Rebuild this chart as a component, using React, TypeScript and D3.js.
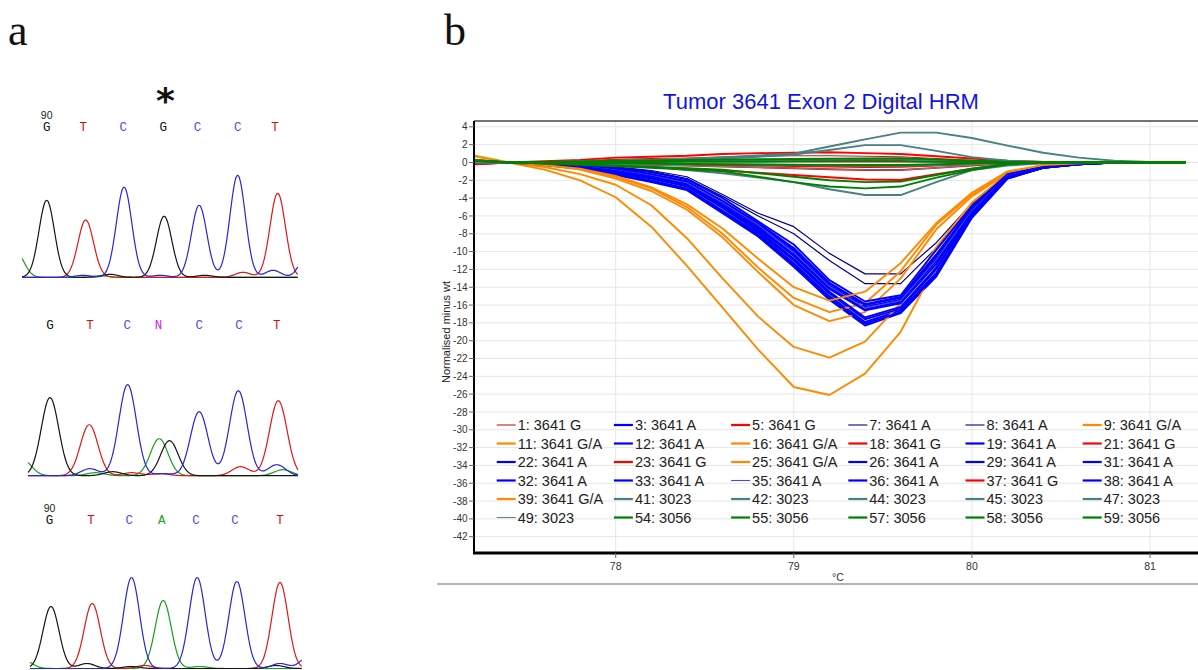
import React from 'react';
import * as d3 from 'd3';

// ---------- Panel b data: HRM difference curves ----------
const temps = [77.2, 77.4, 77.6, 77.8, 78.0, 78.2, 78.4, 78.6, 78.8, 79.0, 79.2, 79.4, 79.6, 79.8, 80.0, 80.2, 80.4, 80.6, 80.8, 81.0, 81.2];

// 3641 G (wild type)
const s1 = [-0.15, 0, 0.1, 0.2, 0.35, 0.45, 0.5, 0.6, 0.7, 0.75, 0.75, 0.7, 0.65, 0.45, 0.25, 0.1, 0.03, 0, 0, 0, 0];
const s5 = [-0.2, 0, 0.15, 0.3, 0.55, 0.65, 0.75, 0.95, 1.05, 1.1, 1.15, 1.05, 0.95, 0.7, 0.45, 0.2, 0.05, 0, 0, 0, 0];
const s18 = [-0.1, 0, 0.05, 0.1, 0.15, 0.2, 0.22, 0.25, 0.25, 0.25, 0.22, 0.2, 0.18, 0.12, 0.08, 0.03, 0, 0, 0, 0, 0];
const s21 = [-0.1, 0, -0.05, -0.1, -0.15, -0.2, -0.25, -0.3, -0.35, -0.4, -0.45, -0.5, -0.47, -0.35, -0.2, -0.05, 0, 0, 0, 0, 0];
const s23 = [-0.15, 0, -0.05, -0.1, -0.2, -0.3, -0.35, -0.45, -0.55, -0.65, -0.75, -0.85, -0.84, -0.6, -0.35, -0.1, -0.02, 0, 0, 0, 0];
const s37 = [-0.2, 0, -0.1, -0.2, -0.4, -0.55, -0.7, -0.9, -1.15, -1.4, -1.65, -1.9, -1.97, -1.3, -0.7, -0.2, -0.05, 0, 0, 0, 0];

// 3641 A
const s3 = [0.1, 0, -0.3, -0.7, -1.4, -2.2, -3.1, -5.7, -8.3, -11.7, -15.4, -18.3, -16.9, -12.8, -6.2, -1.8, -0.6, -0.2, 0, 0, 0];
const s7 = [0, 0, -0.1, -0.3, -0.5, -0.9, -1.6, -3.6, -5.7, -7.2, -10.2, -12.5, -12.5, -9.0, -4.6, -1.2, -0.4, -0.1, 0, 0, 0];
const s8 = [0, 0, -0.1, -0.3, -0.55, -1.0, -1.8, -3.8, -6.0, -8.0, -11.0, -13.6, -13.6, -9.6, -4.8, -1.3, -0.4, -0.1, 0, 0, 0];
const s12 = [0.1, 0, -0.25, -0.6, -1.2, -2.0, -2.9, -5.4, -8.0, -11.3, -15.0, -17.9, -16.6, -12.4, -6.0, -1.7, -0.6, -0.2, 0, 0, 0];
const s19 = [0, 0, -0.15, -0.4, -0.8, -1.4, -2.3, -4.6, -7.1, -10.0, -13.8, -16.2, -15.4, -10.8, -5.3, -1.5, -0.5, -0.1, 0, 0, 0];
const s22 = [0.1, 0, -0.2, -0.55, -1.1, -1.8, -2.7, -5.1, -7.8, -11.0, -14.7, -17.6, -16.4, -12.0, -5.8, -1.7, -0.6, -0.2, 0, 0, 0];
const s26 = [0, 0, -0.1, -0.35, -0.7, -1.3, -2.1, -4.3, -6.8, -9.6, -13.5, -15.9, -15.1, -10.3, -5.1, -1.4, -0.5, -0.1, 0, 0, 0];
const s29 = [0, 0, -0.15, -0.45, -0.9, -1.5, -2.4, -4.8, -7.3, -10.3, -14.0, -16.5, -15.6, -11.1, -5.5, -1.5, -0.5, -0.2, 0, 0, 0];
const s31 = [0.1, 0, -0.25, -0.65, -1.3, -2.1, -3.0, -5.5, -8.2, -11.5, -15.2, -18.1, -16.8, -12.6, -6.1, -1.8, -0.6, -0.2, 0, 0, 0];
const s32 = [0, 0, -0.1, -0.3, -0.6, -1.1, -1.9, -4.0, -6.6, -9.2, -13.2, -15.6, -14.9, -9.8, -4.9, -1.3, -0.5, -0.1, 0, 0, 0];
const s33 = [0, 0, -0.12, -0.38, -0.75, -1.35, -2.2, -4.4, -6.9, -9.8, -13.6, -16.0, -15.2, -10.5, -5.2, -1.4, -0.5, -0.1, 0, 0, 0];
const s35 = [0, 0, -0.15, -0.42, -0.85, -1.45, -2.3, -4.5, -7.0, -10.1, -13.9, -16.3, -15.5, -10.9, -5.4, -1.5, -0.5, -0.1, 0, 0, 0];
const s36 = [0.1, 0, -0.2, -0.5, -1.0, -1.7, -2.6, -5.0, -7.6, -10.8, -14.5, -17.4, -16.2, -11.8, -5.7, -1.6, -0.6, -0.2, 0, 0, 0];
const s38 = [0, 0, -0.18, -0.48, -0.95, -1.6, -2.5, -4.9, -7.4, -10.5, -14.2, -16.6, -15.8, -11.4, -5.6, -1.6, -0.5, -0.2, 0, 0, 0];

// 3641 G/A (heterozygous)
const s9 = [0.8, 0, -0.8, -2.0, -3.9, -7.2, -11.6, -16.3, -21.0, -25.2, -26.1, -23.7, -19.0, -11.5, -5.0, -1.5, -0.4, -0.1, 0, 0, 0];
const s11 = [0.3, 0, -0.3, -0.8, -1.8, -3.2, -5.3, -8.4, -12.3, -16.0, -17.8, -16.8, -13.0, -7.5, -3.8, -1.2, -0.3, -0.1, 0, 0, 0];
const s16 = [0.7, 0, -0.5, -1.3, -2.5, -4.8, -8.5, -13.0, -17.3, -20.7, -21.9, -20.1, -15.8, -9.5, -4.5, -1.3, -0.3, -0.1, 0, 0, 0];
const s25 = [0.2, 0, -0.3, -0.7, -1.6, -2.9, -5.0, -8.0, -11.8, -15.2, -16.8, -15.8, -12.2, -7.0, -3.6, -1.1, -0.3, -0.1, 0, 0, 0];
const s39 = [0.2, 0, -0.3, -0.7, -1.5, -2.8, -4.7, -7.4, -10.8, -14.0, -15.5, -14.5, -11.3, -6.8, -3.4, -1.0, -0.3, -0.1, 0, 0, 0];

// 3023
const s41 = [0, 0, 0.05, 0.1, 0.2, 0.3, 0.4, 0.6, 0.8, 1.0, 1.8, 2.6, 3.35, 3.35, 2.75, 1.9, 1.1, 0.55, 0.2, 0.05, 0];
const s42 = [0.1, 0, 0.05, 0.08, 0.1, 0.12, 0.15, 0.2, 0.25, 0.3, 0.33, 0.35, 0.35, 0.25, 0.12, 0.04, 0, 0, 0, 0, 0];
const s44 = [0.05, 0, -0.03, -0.06, -0.1, -0.13, -0.16, -0.2, -0.24, -0.28, -0.32, -0.36, -0.38, -0.3, -0.15, -0.05, 0, 0, 0, 0, 0];
const s45 = [0, 0, 0.03, 0.08, 0.15, 0.22, 0.32, 0.45, 0.65, 0.9, 1.4, 1.95, 1.95, 1.3, 0.6, 0.2, 0.05, 0, 0, 0, 0];
const s47 = [0.1, 0, -0.08, -0.18, -0.3, -0.45, -0.85, -1.2, -1.7, -2.2, -3.0, -3.65, -3.65, -2.2, -0.85, -0.35, -0.1, 0, 0, 0, 0];
const s49 = [0.05, 0, -0.05, -0.1, -0.2, -0.28, -0.36, -0.45, -0.55, -0.65, -0.75, -0.82, -0.85, -0.6, -0.3, -0.1, 0, 0, 0, 0, 0];

// 3056
const s54 = [0.25, 0, 0.06, 0.12, 0.2, 0.24, 0.28, 0.32, 0.36, 0.4, 0.43, 0.45, 0.47, 0.35, 0.2, 0.05, 0, 0, 0, 0, 0];
const s55 = [0.2, 0, 0.02, 0.03, 0.05, 0.06, 0.07, 0.08, 0.09, 0.1, 0.1, 0.1, 0.1, 0.07, 0.04, 0.01, 0, 0, 0, 0, 0];
const s57 = [0.2, 0, -0.03, -0.06, -0.1, -0.13, -0.16, -0.19, -0.22, -0.25, -0.27, -0.28, -0.28, -0.2, -0.1, -0.03, 0, 0, 0, 0, 0];
const s58 = [0.3, 0, -0.1, -0.2, -0.35, -0.5, -0.65, -0.8, -1.2, -1.6, -2.0, -2.2, -2.15, -1.4, -0.7, -0.15, 0, 0, 0, 0, 0];
const s59 = [0.3, 0, -0.12, -0.25, -0.4, -0.6, -0.8, -1.0, -1.6, -2.2, -2.7, -2.9, -2.7, -1.7, -0.85, -0.2, 0, 0, 0, 0, 0];

const sampleIds = [1, 3, 5, 7, 8, 9, 11, 12, 16, 18, 19, 21, 22, 23, 25, 26, 29, 31, 32, 33, 35, 36, 37, 38, 39, 41, 42, 44, 45, 47, 49, 54, 55, 57, 58, 59];
const sampleGenotypes = ['3641 G', '3641 A', '3641 G', '3641 A', '3641 A', '3641 G/A', '3641 G/A', '3641 A', '3641 G/A', '3641 G', '3641 A', '3641 G', '3641 A', '3641 G', '3641 G/A', '3641 A', '3641 A', '3641 A', '3641 A', '3641 A', '3641 A', '3641 A', '3641 G', '3641 A', '3641 G/A', '3023', '3023', '3023', '3023', '3023', '3023', '3056', '3056', '3056', '3056', '3056'];
const sampleValues = [s1, s3, s5, s7, s8, s9, s11, s12, s16, s18, s19, s21, s22, s23, s25, s26, s29, s31, s32, s33, s35, s36, s37, s38, s39, s41, s42, s44, s45, s47, s49, s54, s55, s57, s58, s59];

const yTicks = [4, 2, 0, -2, -4, -6, -8, -10, -12, -14, -16, -18, -20, -22, -24, -26, -28, -30, -32, -34, -36, -38, -40, -42];
const xTicks = [78, 79, 80, 81];

// ---------- Panel a data: sequencing chromatograms ----------
// [base channel, position (base index), intensity]
const trace1Peaks = [
  ['G', 0, 77], ['T', 1.01, 56], ['C', 2.01, 90], ['G', 3.05, 61], ['C', 3.96, 72], ['C', 4.96, 102], ['T', 6.0, 84],
  ['A', -0.78, 24], ['C', 6.78, 24], ['T', 5.1, 5], ['C', 5.88, 7], ['G', 1.65, 3], ['C', 2.95, 2], ['C', 0.95, 2], ['T', 1.2, 2], ['A', 1.4, 1.5], ['G', 4.1, 2],
];
const trace1Calls = ['G', 'T', 'C', 'G', 'C', 'C', 'T'];
const trace1CallPos = [0, 0.95, 1.99, 3.03, 3.92, 4.96, 5.93];

const trace2Peaks = [
  ['G', 0, 78], ['T', 1.03, 51], ['C', 2.04, 91], ['A', 2.87, 37], ['G', 3.14, 35], ['C', 3.92, 64], ['C', 4.95, 85], ['T', 6.0, 75],
  ['A', -0.72, 16], ['T', 5.01, 9], ['C', 5.96, 11], ['C', 1.05, 7], ['A', 6.12, 6], ['G', 1.65, 4], ['T', 2.15, 3], ['A', 1.2, 3], ['T', 2.9, 2], ['C', 3.0, 2],
];
const trace2Calls = ['G', 'T', 'C', 'N', 'C', 'C', 'T'];
const trace2CallPos = [0, 1.05, 2.03, 2.85, 3.92, 4.97, 5.96];

const trace3Peaks = [
  ['G', 0, 62], ['T', 1.08, 65], ['C', 2.11, 91], ['A', 2.94, 68], ['C', 3.83, 91], ['C', 4.87, 87], ['T', 6.0, 86],
  ['G', 0.94, 5], ['C', 6.0, 5], ['T', 2.45, 3], ['G', 2.1, 2], ['A', 3.9, 2], ['G', 5.9, 3], ['A', -0.7, 8], ['C', 6.75, 12],
];
const trace3Calls = ['G', 'T', 'C', 'A', 'C', 'C', 'T'];
const trace3CallPos = [-0.04, 1.05, 2.05, 2.9, 3.8, 4.82, 6.0];

// ---------- styles ----------
const groupColor = (g: string) =>
  g === '3641 G' ? '#ff0000' : g === '3641 A' ? '#0000ff' : g === '3641 G/A' ? '#ff8a00' : g === '3023' ? '#468282' : '#008000';

const lineStyle = (id: number, g: string) => {
  if (id === 1) return { color: '#b22222', w: 1.1 };
  if (id === 7 || id === 8) return { color: '#00008c', w: 1.2 };
  if (id === 35) return { color: '#4a4ad4', w: 1.1 };
  if (id === 49) return { color: '#5a8c8c', w: 1.1 };
  return { color: groupColor(g), w: 1.9 };
};

const channelColor: Record<string, string> = { G: '#151515', T: '#e01818', C: '#2626dc', A: '#18a018' };
const callColor: Record<string, string> = { G: '#111111', T: '#d01010', C: '#5050d8', A: '#20a020', N: '#e020e0' };

function Chromatogram(props: any) {
  const { peaks, calls, callPos, x0, x1, baseline, start, end, sigma, labelY, showNum } = props;
  const xs = d3.scaleLinear().domain([0, 6]).range([x0, x1]);
  const ys = d3.scaleLinear().domain([0, 100]).range([baseline, baseline - 100]);
  const channels = ['A', 'T', 'G', 'C'];
  const grid = d3.range(start, end + 0.0001, 0.02);
  const line = d3.line<[number, number]>().x((d) => xs(d[0])).y((d) => ys(d[1])).curve(d3.curveMonotoneX);
  return (
    <g>
      {channels.map((ch) => {
        const ps = peaks.filter((p: any) => p[0] === ch);
        const pts: [number, number][] = grid.map((t: number) => {
          let v = 0;
          ps.forEach((p: any) => {
            v += p[2] * Math.exp(-((t - p[1]) * (t - p[1])) / (2 * sigma * sigma));
          });
          return [t, v];
        });
        return <path key={ch} d={line(pts) || ''} fill="none" stroke={channelColor[ch]} strokeWidth={1.2} />;
      })}
      {calls.map((c: string, i: number) => (
        <text key={i} x={xs(callPos[i])} y={labelY} textAnchor="middle" fontFamily="'Liberation Mono', monospace" fontSize={12.5} fill={callColor[c]}>
          {c}
        </text>
      ))}
      {showNum && (
        <text x={xs(callPos[0])} y={labelY - 12} textAnchor="middle" fontFamily="'Liberation Sans', Arial, sans-serif" fontSize={10.5} fill="#222">
          90
        </text>
      )}
    </g>
  );
}

export default function App() {
  const L = 474, R = 1198, T = 121, B = 553;
  const x = d3.scaleLinear().domain([78, 81]).range([615.7, 1150]);
  const y = d3.scaleLinear().domain([0, -42]).range([162.5, 536.7]);
  const line = d3.line<number>().x((_, i) => x(temps[i])).y((d) => y(d));

  const legCols = 6;
  const legX0 = 496.7, legDX = 117.2, legY0 = 425, legDY = 18.5;
  const font = "'Liberation Sans', Arial, sans-serif";

  return (
    <svg width={1198} height={670} style={{ position: 'absolute', left: 0, top: 0, background: '#fff' }}>
      <rect x={0} y={0} width={1198} height={670} fill="#fff" />
      {/* Panel labels */}
      <text x={8} y={45} fontFamily="'Liberation Serif', 'Times New Roman', serif" fontSize={44} fill="#111">a</text>
      <text x={444} y={45} fontFamily="'Liberation Serif', 'Times New Roman', serif" fontSize={44} fill="#111">b</text>

      {/* Panel a */}
      <text x={165.5} y={113} textAnchor="middle" fontFamily="'DejaVu Sans', sans-serif" fontWeight="bold" fontSize={36} fill="#111">*</text>
      <Chromatogram peaks={trace1Peaks} calls={trace1Calls} callPos={trace1CallPos} x0={46.7} x1={277.7} baseline={277.3} start={-0.64} end={6.53} sigma={0.2} labelY={130.5} showNum />
      <Chromatogram peaks={trace2Peaks} calls={trace2Calls} callPos={trace2CallPos} x0={50} x1={278.3} baseline={475.7} start={-0.58} end={6.52} sigma={0.23} labelY={328.5} showNum={false} />
      <Chromatogram peaks={trace3Peaks} calls={trace3Calls} callPos={trace3CallPos} x0={51} x1={280} baseline={668.5} start={-0.55} end={6.57} sigma={0.21} labelY={523.5} showNum />

      {/* Panel b */}
      <text x={821} y={109} textAnchor="middle" fontFamily={font} fontSize={22} fill="#1414e0">Tumor 3641 Exon 2 Digital HRM</text>
      <defs>
        <clipPath id="plotclip"><rect x={L} y={T} width={R - L} height={B - T} /></clipPath>
      </defs>
      {yTicks.map((t) => (
        <line key={'gy' + t} x1={L} x2={R} y1={y(t)} y2={y(t)} stroke="#e6e6e6" strokeWidth={1} />
      ))}
      {xTicks.map((t) => (
        <line key={'gx' + t} x1={x(t)} x2={x(t)} y1={T} y2={B} stroke="#e6e6e6" strokeWidth={1} />
      ))}
      <g clipPath="url(#plotclip)">
        {sampleValues.map((vals, i) => {
          const st = lineStyle(sampleIds[i], sampleGenotypes[i]);
          return <path key={sampleIds[i]} d={line(vals) || ''} fill="none" stroke={st.color} strokeWidth={st.w} strokeLinejoin="round" />;
        })}
      </g>
      {/* Legend */}
      {sampleIds.map((id, i) => {
        const col = i % legCols, row = Math.floor(i / legCols);
        const lx = legX0 + col * legDX, ly = legY0 + row * legDY;
        const st = lineStyle(id, sampleGenotypes[i]);
        return (
          <g key={'lg' + id}>
            <line x1={lx} x2={lx + 19} y1={ly} y2={ly} stroke={st.color} strokeWidth={st.w > 1.5 ? 2.2 : 1.1} />
            <text x={lx + 21} y={ly + 5.2} fontFamily={font} fontSize={14.5} fill="#222">{id + ': ' + sampleGenotypes[i]}</text>
          </g>
        );
      })}
      {/* Axes */}
      <line x1={L} x2={R} y1={T} y2={T} stroke="#444" strokeWidth={1.5} />
      <line x1={L} x2={L} y1={T} y2={B + 1} stroke="#000" strokeWidth={2} />
      <line x1={L - 1} x2={R} y1={B} y2={B} stroke="#000" strokeWidth={3} />
      {yTicks.map((t) => (
        <g key={'ty' + t}>
          <line x1={L - 5} x2={L} y1={y(t)} y2={y(t)} stroke="#666" strokeWidth={1} />
          <text x={L - 6.5} y={y(t) + 3.6} textAnchor="end" fontFamily={font} fontSize={10} fill="#333">{String(t)}</text>
        </g>
      ))}
      {xTicks.map((t) => (
        <g key={'tx' + t}>
          <line x1={x(t)} x2={x(t)} y1={B} y2={B + 5} stroke="#666" strokeWidth={1} />
          <text x={x(t)} y={B + 17} textAnchor="middle" fontFamily={font} fontSize={10.5} fill="#333">{String(t)}</text>
        </g>
      ))}
      <text x={838} y={581} textAnchor="middle" fontFamily={font} fontSize={10.5} fill="#333">°C</text>
      <text transform="translate(449.5,332) rotate(-90)" textAnchor="middle" fontFamily={font} fontSize={11} fill="#222">Normalised minus wt</text>
      <line x1={437} x2={1198} y1={584} y2={584} stroke="#b5b5b5" strokeWidth={2} />
    </svg>
  );
}
